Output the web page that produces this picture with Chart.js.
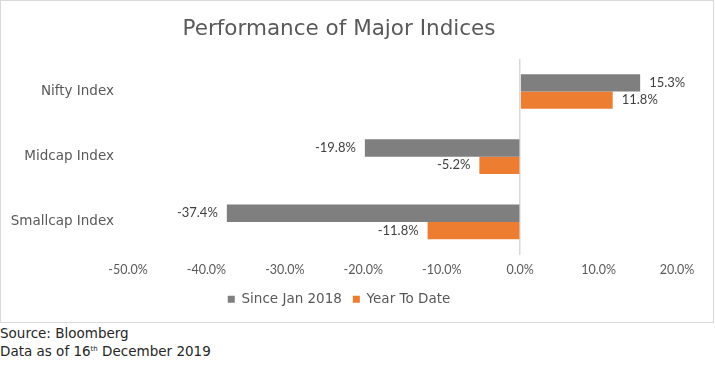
<!DOCTYPE html>
<html>
<head>
<meta charset="utf-8">
<script src="https://cdn.jsdelivr.net/npm/chart.js@4"></script>
<style>
  body { margin: 0; background: #fff; font-family: "DejaVu Sans", sans-serif; }
  #box { position: absolute; left: 0; top: 0; width: 712px; height: 321px; border: 1px solid #d9d9d9; }
  .note { position: absolute; left: 0; font-size: 13.5px; color: #262626; }
  sup { font-size: 7px; }
</style>
</head>
<body>
<div id="box"><canvas id="myChart" width="712" height="321"></canvas></div>
<div class="note" style="top:325px">Source: Bloomberg</div>
<div class="note" style="top:343px">Data as of 16<sup>th</sup> December 2019</div>
<script>
var indices = ["Nifty Index", "Midcap Index", "Smallcap Index"];
var sinceJan2018 = [15.3, -19.8, -37.4];
var yearToDate = [11.8, -5.2, -11.8];
var xTicks = [-50, -40, -30, -20, -10, 0, 10, 20];

// value labels at the end of each bar
var barLabels = {
    id: 'barLabels',
    afterDatasetsDraw: function (chart) {
        var ctx = chart.ctx;
        ctx.save();
        ctx.font = '13px Lato';
        ctx.fillStyle = '#404040';
        ctx.textBaseline = 'middle';
        chart.data.datasets.forEach(function (ds, i) {
            chart.getDatasetMeta(i).data.forEach(function (bar, j) {
                var v = ds.data[j];
                if (v >= 0) {
                    ctx.textAlign = 'left';
                    ctx.fillText(v.toFixed(1) + '%', bar.x + 9, bar.y);
                } else {
                    ctx.textAlign = 'right';
                    ctx.fillText(v.toFixed(1) + '%', bar.x - 9, bar.y);
                }
            });
        });
        ctx.restore();
    }
};

var ctx = document.getElementById('myChart').getContext('2d');
var chart = new Chart(ctx, {
    type: 'bar',
    data: {
        labels: indices,
        datasets: [{
            label: 'Since Jan 2018',
            backgroundColor: '#7f7f7f',
            data: sinceJan2018
        }, {
            label: 'Year To Date',
            backgroundColor: '#ed7d31',
            data: yearToDate
        }]
    },
    options: {
        indexAxis: 'y',
        responsive: false,
        animation: false,
        datasets: { bar: { categoryPercentage: 0.53, barPercentage: 1.0 } },
        layout: { padding: { left: 0, right: 36, top: 0, bottom: 6 } },
        scales: {
            x: {
                min: -50, max: 20,
                afterBuildTicks: function (axis) {
                    axis.ticks = xTicks.map(function (v) { return { value: v }; });
                },
                afterFit: function (axis) { axis.height = 27; },
                ticks: {
                    color: '#595959',
                    font: { family: 'Lato', size: 12.5 },
                    padding: 8,
                    callback: function (v) { return v.toFixed(1) + '%'; }
                },
                grid: {
                    drawTicks: false,
                    lineWidth: 1.5,
                    color: function (c) { return c.tick && c.tick.value === 0 ? '#d9d9d9' : 'rgba(0,0,0,0)'; }
                },
                border: { display: false }
            },
            y: {
                afterFit: function (axis) { axis.width = 127; },
                ticks: {
                    color: '#595959',
                    font: { family: 'DejaVu Sans', size: 13.5 },
                    padding: 6
                },
                grid: { display: false },
                border: { display: false }
            }
        },
        plugins: {
            title: {
                display: true,
                text: 'Performance of Major Indices',
                color: '#595959',
                font: { family: 'DejaVu Sans', size: 21.5, weight: 'normal' },
                padding: { top: 16, bottom: 16 }
            },
            legend: {
                position: 'bottom',
                labels: {
                    color: '#595959',
                    font: { family: 'DejaVu Sans', size: 13.5 },
                    boxWidth: 7,
                    boxHeight: 7,
                    padding: 11
                }
            },
            tooltip: { enabled: false }
        }
    },
    plugins: [barLabels]
});
</script>
</body>
</html>
